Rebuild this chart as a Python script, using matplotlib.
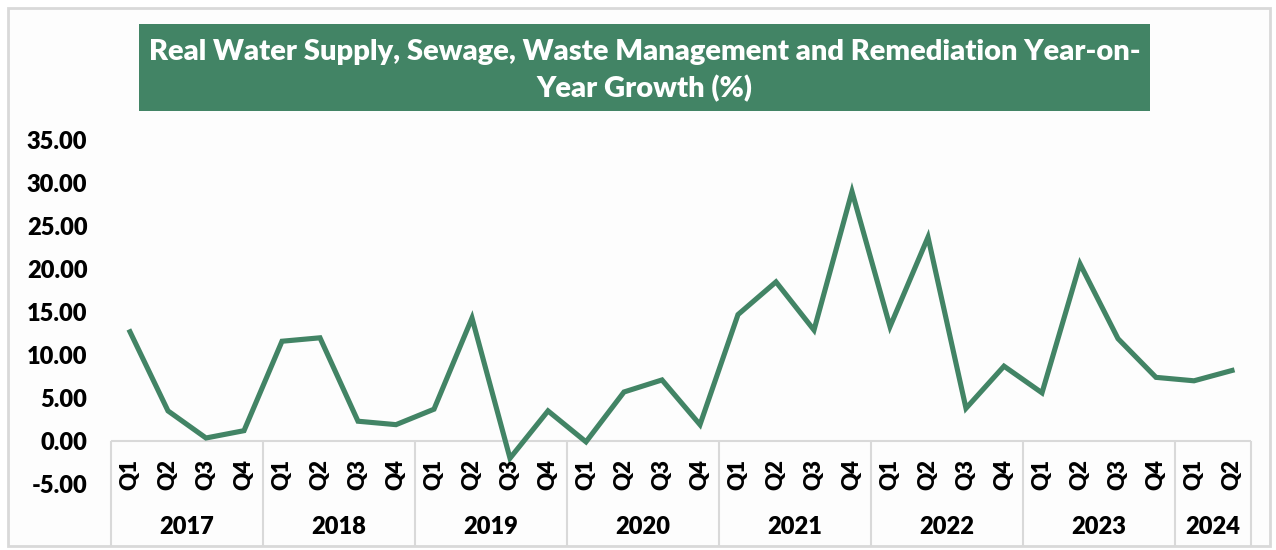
import matplotlib
matplotlib.use("Agg")
import matplotlib.pyplot as plt
from matplotlib.patches import Rectangle
from matplotlib.transforms import blended_transform_factory

years = ["2017", "2018", "2019", "2020", "2021", "2022", "2023", "2024"]
quarters_per_year = [4, 4, 4, 4, 4, 4, 4, 2]
quarter_labels = ["Q1", "Q2", "Q3", "Q4"] * 7 + ["Q1", "Q2"]
growth = [12.7, 3.5, 0.35, 1.2,
          11.6, 12.0, 2.3, 1.9,
          3.7, 14.3, -2.0, 3.5,
          -0.1, 5.7, 7.1, 1.9,
          14.7, 18.5, 12.9, 29.0,
          13.3, 23.7, 3.8, 8.7,
          5.6, 20.6, 11.9, 7.4,
          7.0, 8.2]
yticks = [-5, 0, 5, 10, 15, 20, 25, 30, 35]

FONT = "Lato"
WEIGHT = "heavy"
GREEN = "#428465"
GRID = "#d9d9d9"

W, H = 1276, 550
fig = plt.figure(figsize=(W / 100, H / 100), dpi=100)
fig.patch.set_facecolor("white")

# chart frame
fig.patches.append(Rectangle((8 / W, 1 - 546 / H), (1270 - 8) / W, (546 - 8) / H,
                             transform=fig.transFigure, facecolor="#fdfdfd",
                             edgecolor=GRID, linewidth=2, zorder=-2))

# title box
bx0, bx1, by0, by1 = 139, 1150, 24, 111
fig.patches.append(Rectangle((bx0 / W, 1 - by1 / H), (bx1 - bx0) / W, (by1 - by0) / H,
                             transform=fig.transFigure, facecolor=GREEN,
                             edgecolor="none", zorder=-1))
fig.text((bx0 + bx1) / 2 / W, 1 - 52 / H,
         "Real Water Supply, Sewage, Waste Management and Remediation Year-on-",
         ha="center", va="center", color="white", fontsize=21,
         fontweight=WEIGHT, family=FONT)
fig.text((bx0 + bx1) / 2 / W, 1 - 89 / H, "Year Growth (%)",
         ha="center", va="center", color="white", fontsize=21,
         fontweight=WEIGHT, family=FONT)

# axes
ax_left, ax_right = 111, 1251
ax_top, ax_bottom = 140, 484
ax = fig.add_axes([ax_left / W, 1 - ax_bottom / H, (ax_right - ax_left) / W,
                   (ax_bottom - ax_top) / H])
ax.set_zorder(2)
ax.set_facecolor("none")
x = list(range(len(growth)))
ax.plot(x, growth, color=GREEN, linewidth=3.7, solid_joinstyle="miter", zorder=3)
ax.set_xlim(-0.5, len(growth) - 0.5)
ax.set_ylim(-5, 35)
ax.set_yticks(yticks)
ax.set_yticklabels([f"{v:.2f}" for v in yticks], fontsize=17, fontweight=WEIGHT,
                   family=FONT)
ax.tick_params(axis="y", length=0, pad=17)
ax.set_xticks([])
for s in ax.spines.values():
    s.set_visible(False)

# category axis line at zero
ax.axhline(0, color=GRID, linewidth=1.5, zorder=2)

trans = blended_transform_factory(ax.transData, fig.transFigure)
# quarter labels
for i, q in enumerate(quarter_labels):
    ax.text(i, 1 - 474 / H, q, transform=trans, rotation=90, ha="center",
            va="center", fontsize=16, fontweight=WEIGHT, family=FONT)
# year labels and separators
start = 0
bounds = [0]
for yr, n in zip(years, quarters_per_year):
    c = start + n / 2 - 0.5
    ax.text(c, 1 - 527 / H, yr, transform=trans, ha="center", va="center",
            fontsize=17, fontweight=WEIGHT, family=FONT)
    start += n
    bounds.append(start)
for b in bounds:
    ax.plot([b - 0.5, b - 0.5], [1 - 442 / H, 1 - 545 / H], transform=trans,
            color=GRID, linewidth=1.5, clip_on=False, zorder=2)

fig.savefig("out.png", dpi=100, facecolor=fig.get_facecolor())
